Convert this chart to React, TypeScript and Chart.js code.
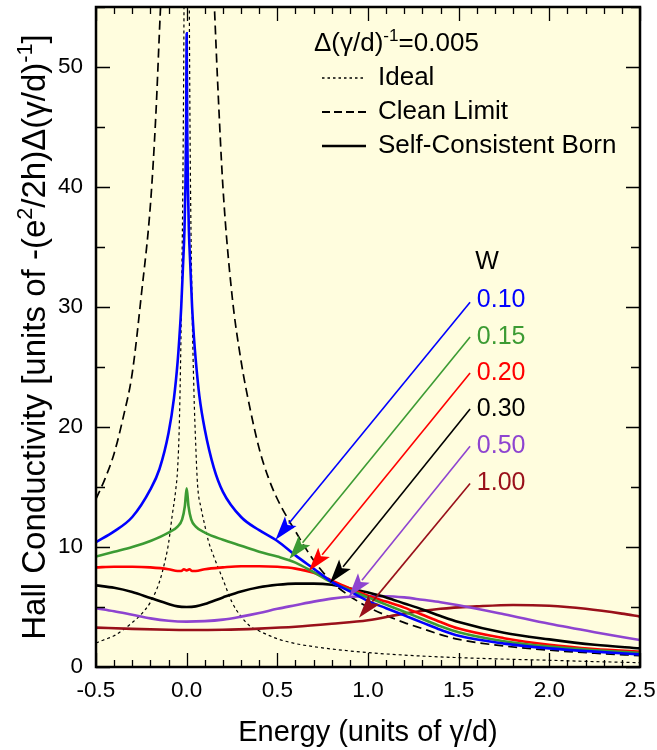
import React, { useEffect, useRef } from "react";
import { Chart, registerables } from "chart.js";

Chart.register(...registerables);

const FONT = '"Liberation Sans", Arial, Helvetica, sans-serif';
const PLOT_BG = "#FFFDDE";

// ---------- axes ----------
const xMin = -0.5;
const xMax = 2.5;
const yMin = 0;
const yMax = 55;
const xTickValues = [-0.5, 0, 0.5, 1.0, 1.5, 2.0, 2.5];
const yTickValues = [0, 10, 20, 30, 40, 50];
const xMinorStep = 0.1;
const yMinorStep = 5;

// ---------- series (Energy in units of γ/d, Hall conductivity) ----------
const idealE = [-0.5, -0.45, -0.4, -0.35, -0.3, -0.25, -0.2, -0.15, -0.12, -0.1, -0.08, -0.06, -0.05, -0.04, -0.03, -0.02, -0.015, -0.01, 0, 0.01, 0.015, 0.02, 0.03, 0.04, 0.05, 0.06, 0.08, 0.1, 0.12, 0.15, 0.2, 0.25, 0.3, 0.35, 0.4, 0.5, 0.6, 0.7, 0.8, 1.0, 1.25, 1.5, 1.75, 2.0, 2.25, 2.5];
const idealV = [2.0, 2.3, 2.6, 3.1, 3.7, 4.4, 5.4, 7.1, 8.8, 10.3, 12.6, 14.8, 16.5, 20.5, 29, 42, 54, 75, 200, 75, 54, 42, 30, 23, 18.5, 15.2, 13.2, 11.8, 10.5, 9.2, 7.3, 5.4, 4.2, 3.4, 3.0, 2.35, 1.95, 1.7, 1.5, 1.2, 0.95, 0.78, 0.66, 0.56, 0.45, 0.36];

const cleanE = [-0.5, -0.45, -0.4, -0.35, -0.3, -0.25, -0.2, -0.17, -0.15, -0.13, -0.1, 0, 0.1, 0.13, 0.15, 0.17, 0.2, 0.25, 0.3, 0.35, 0.4, 0.45, 0.5, 0.6, 0.7, 0.8, 0.9, 1.0, 1.1, 1.2, 1.3, 1.4, 1.5, 1.75, 2.0, 2.25, 2.5];
const cleanV = [14.0, 15.7, 17.8, 20.8, 24.5, 31, 38.5, 46, 53, 60, 75, 300, 75, 62, 56, 49, 40, 31, 25.5, 21.5, 18.2, 15.8, 14.0, 11.3, 8.9, 7.1, 5.9, 5.0, 4.3, 3.7, 3.2, 2.7, 2.3, 1.75, 1.4, 1.15, 0.95];

const w010E = [-0.5, -0.4, -0.3, -0.2, -0.15, -0.1, -0.07, -0.05, -0.04, -0.03, -0.02, -0.012, -0.007, -0.003, 0, 0.003, 0.007, 0.012, 0.02, 0.03, 0.04, 0.05, 0.07, 0.1, 0.15, 0.2, 0.3, 0.4, 0.5, 0.6, 0.7, 0.8, 0.9, 1.0, 1.1, 1.2, 1.3, 1.4, 1.5, 1.75, 2.0, 2.25, 2.5];
const w010V = [10.4, 11.3, 12.5, 14.8, 16.5, 19.5, 22.4, 25.4, 27.5, 30, 33.5, 36.5, 40, 45, 52.8, 45, 40, 36.5, 33.5, 30, 27.5, 25.6, 22.6, 19.8, 16.6, 14.6, 12.5, 11.4, 10.5, 9.3, 8.2, 7.1, 6.3, 5.5, 4.9, 4.3, 3.7, 3.1, 2.6, 1.95, 1.55, 1.28, 1.05];

const w015E = [-0.5, -0.4, -0.3, -0.2, -0.1, -0.05, -0.025, -0.01, 0, 0.01, 0.025, 0.05, 0.1, 0.2, 0.3, 0.4, 0.5, 0.6, 0.7, 0.8, 0.9, 1.0, 1.1, 1.2, 1.3, 1.4, 1.5, 1.75, 2.0, 2.25, 2.5];
const w015V = [9.2, 9.6, 10.0, 10.5, 11.2, 11.7, 12.3, 13.4, 14.9, 13.4, 12.3, 11.7, 11.2, 10.6, 10.1, 9.6, 9.2, 8.7, 7.9, 7.05, 6.4, 5.8, 5.2, 4.6, 4.0, 3.4, 2.9, 2.15, 1.7, 1.4, 1.18];

const w020E = [-0.5, -0.4, -0.3, -0.2, -0.1, -0.05, -0.03, -0.015, 0, 0.015, 0.03, 0.05, 0.1, 0.2, 0.3, 0.4, 0.5, 0.6, 0.7, 0.8, 0.9, 1.0, 1.1, 1.2, 1.3, 1.4, 1.5, 1.75, 2.0, 2.25, 2.5];
const w020V = [8.3, 8.35, 8.35, 8.3, 8.15, 8.0, 8.0, 8.15, 8.05, 8.15, 8.0, 8.0, 8.15, 8.3, 8.4, 8.4, 8.35, 8.2, 7.85, 7.2, 6.55, 5.95, 5.45, 4.95, 4.35, 3.75, 3.2, 2.4, 1.85, 1.5, 1.28];

const w030E = [-0.5, -0.4, -0.3, -0.2, -0.1, -0.05, 0, 0.05, 0.1, 0.2, 0.3, 0.4, 0.5, 0.6, 0.7, 0.8, 0.9, 1.0, 1.1, 1.2, 1.3, 1.4, 1.5, 1.75, 2.0, 2.25, 2.5];
const w030V = [6.8, 6.6, 6.25, 5.75, 5.25, 5.05, 5.0, 5.05, 5.25, 5.8, 6.3, 6.65, 6.85, 6.95, 6.95, 6.85, 6.55, 6.2, 5.8, 5.3, 4.8, 4.25, 3.75, 2.85, 2.3, 1.85, 1.55];

const w050E = [-0.5, -0.4, -0.3, -0.2, -0.1, 0, 0.1, 0.2, 0.3, 0.4, 0.5, 0.6, 0.7, 0.8, 0.9, 1.0, 1.1, 1.2, 1.3, 1.4, 1.5, 1.75, 2.0, 2.25, 2.5];
const w050V = [4.9, 4.65, 4.35, 4.05, 3.85, 3.78, 3.82, 3.95, 4.2, 4.5, 4.85, 5.15, 5.45, 5.7, 5.85, 5.9, 5.9, 5.8, 5.6, 5.4, 5.15, 4.4, 3.6, 2.9, 2.25];

const w100E = [-0.5, -0.3, -0.1, 0, 0.2, 0.4, 0.6, 0.8, 1.0, 1.2, 1.4, 1.6, 1.8, 2.0, 2.2, 2.4, 2.5];
const w100V = [3.28, 3.18, 3.1, 3.08, 3.1, 3.2, 3.35, 3.6, 3.9, 4.45, 4.85, 5.05, 5.17, 5.1, 4.85, 4.45, 4.2];

// ---------- W labels & arrows ----------
const wLabels = ["0.10", "0.15", "0.20", "0.30", "0.50", "1.00"];
const wColors = ["#0000FF", "#3C9B33", "#FF0000", "#000000", "#8E44D0", "#99101A"];
const wLabelE = 1.6;
const wLabelV = [30.55, 27.5, 24.5, 21.45, 18.4, 15.35];
const wHeaderE = 1.656;
const wHeaderV = 33.75;
const arrowStartE = [1.563, 1.563, 1.563, 1.563, 1.563, 1.563];
const arrowStartV = [30.4, 27.5, 24.5, 21.5, 18.4, 15.3];
const arrowTipE = [0.49, 0.566, 0.674, 0.79, 0.894, 0.95];
const arrowTipV = [10.6, 9.0, 8.0, 7.0, 5.86, 4.1];

const wSeriesE = [w010E, w015E, w020E, w030E, w050E, w100E];
const wSeriesV = [w010V, w015V, w020V, w030V, w050V, w100V];

const zip = (e: number[], v: number[]) => e.map((x, i) => ({ x, y: v[i] }));

type Part = { t: string; sup?: boolean };

function drawParts(ctx: CanvasRenderingContext2D, parts: Part[], x: number, y: number, size: number, align: "left" | "center") {
  const supSize = size * 0.66;
  const widths = parts.map((p) => {
    ctx.font = `${p.sup ? supSize : size}px ${FONT}`;
    return ctx.measureText(p.t).width;
  });
  const total = widths.reduce((a, b) => a + b, 0);
  let cx = align === "center" ? x - total / 2 : x;
  ctx.textAlign = "left";
  ctx.textBaseline = "alphabetic";
  parts.forEach((p, i) => {
    ctx.font = `${p.sup ? supSize : size}px ${FONT}`;
    ctx.fillText(p.t, cx, p.sup ? y - size * 0.4 : y);
    cx += widths[i];
  });
}

function drawArrow(ctx: CanvasRenderingContext2D, x0: number, y0: number, x1: number, y1: number, color: string) {
  const ang = Math.atan2(y1 - y0, x1 - x0);
  const L = 24;
  const H = 7.5;
  const bx = x1 - L * Math.cos(ang);
  const by = y1 - L * Math.sin(ang);
  ctx.strokeStyle = color;
  ctx.lineWidth = 1.6;
  ctx.setLineDash([]);
  ctx.beginPath();
  ctx.moveTo(x0, y0);
  ctx.lineTo(bx + 3 * Math.cos(ang), by + 3 * Math.sin(ang));
  ctx.stroke();
  ctx.fillStyle = color;
  ctx.beginPath();
  ctx.moveTo(x1, y1);
  ctx.lineTo(bx + H * Math.sin(ang), by - H * Math.cos(ang));
  ctx.lineTo(bx + 5 * Math.cos(ang), by + 5 * Math.sin(ang));
  ctx.lineTo(bx - H * Math.sin(ang), by + H * Math.cos(ang));
  ctx.closePath();
  ctx.fill();
}

const decorPlugin = {
  id: "decor",
  beforeDatasetsDraw(chart: any) {
    const { ctx, chartArea: a } = chart;
    ctx.save();
    ctx.fillStyle = PLOT_BG;
    ctx.fillRect(a.left, a.top, a.right - a.left, a.bottom - a.top);
    ctx.restore();
  },
  afterDatasetsDraw(chart: any) {
    const { ctx, chartArea: a } = chart;
    const xs = chart.scales.x;
    const ys = chart.scales.y;
    ctx.save();

    // arrows
    for (let i = 0; i < wLabels.length; i++) {
      drawArrow(
        ctx,
        xs.getPixelForValue(arrowStartE[i]),
        ys.getPixelForValue(arrowStartV[i]),
        xs.getPixelForValue(arrowTipE[i]),
        ys.getPixelForValue(arrowTipV[i]),
        wColors[i]
      );
    }

    // frame ticks
    ctx.strokeStyle = "#000";
    ctx.lineWidth = 1.3;
    ctx.setLineDash([]);
    ctx.beginPath();
    const nx = Math.round((xMax - xMin) / xMinorStep);
    for (let i = 0; i <= nx; i++) {
      const v = xMin + i * xMinorStep;
      const px = Math.round(xs.getPixelForValue(v)) + 0.5;
      const len = i % 5 === 0 ? 14 : 7;
      ctx.moveTo(px, a.bottom);
      ctx.lineTo(px, a.bottom - len);
      ctx.moveTo(px, a.top);
      ctx.lineTo(px, a.top + len);
    }
    const ny = Math.round((yMax - yMin) / yMinorStep);
    for (let i = 0; i <= ny; i++) {
      const v = yMin + i * yMinorStep;
      const py = Math.round(ys.getPixelForValue(v)) + 0.5;
      const len = i % 2 === 0 ? 14 : 9;
      ctx.moveTo(a.left, py);
      ctx.lineTo(a.left + len, py);
      ctx.moveTo(a.right, py);
      ctx.lineTo(a.right - len, py);
    }
    ctx.stroke();

    // frame border
    ctx.lineWidth = 2.5;
    ctx.strokeRect(a.left, a.top, a.right - a.left, a.bottom - a.top);

    // W labels
    ctx.textBaseline = "middle";
    ctx.font = `25px ${FONT}`;
    ctx.fillStyle = "#000";
    ctx.textAlign = "center";
    ctx.fillText("W", xs.getPixelForValue(wHeaderE), ys.getPixelForValue(wHeaderV));
    ctx.textAlign = "left";
    for (let i = 0; i < wLabels.length; i++) {
      ctx.fillStyle = wColors[i];
      ctx.fillText(wLabels[i], xs.getPixelForValue(wLabelE), ys.getPixelForValue(wLabelV[i]));
    }

    // legend
    ctx.fillStyle = "#000";
    drawParts(ctx, [{ t: "Δ(γ/d)" }, { t: "-1", sup: true }, { t: "=0.005" }], 314, 51, 26, "left");
    const rows = [
      { y: 78, text: "Ideal", dash: [2.5, 3], w: 1.6 },
      { y: 112, text: "Clean Limit", dash: [8, 4], w: 1.8 },
      { y: 146, text: "Self-Consistent Born", dash: [] as number[], w: 2.5 },
    ];
    rows.forEach((r) => {
      ctx.strokeStyle = "#000";
      ctx.lineWidth = r.w;
      ctx.setLineDash(r.dash);
      ctx.beginPath();
      ctx.moveTo(322, r.y);
      ctx.lineTo(366, r.y);
      ctx.stroke();
      ctx.setLineDash([]);
      ctx.font = `26px ${FONT}`;
      ctx.textAlign = "left";
      ctx.textBaseline = "middle";
      ctx.fillText(r.text, 378, r.y);
    });

    // x title
    ctx.fillStyle = "#000";
    ctx.font = `29px ${FONT}`;
    ctx.textAlign = "center";
    ctx.textBaseline = "alphabetic";
    ctx.fillText("Energy (units of γ/d)", (a.left + a.right) / 2, 741);

    // y title
    ctx.save();
    ctx.translate(45, (a.top + a.bottom) / 2);
    ctx.rotate(-Math.PI / 2);
    drawParts(
      ctx,
      [
        { t: "Hall Conductivity [units of -(e" },
        { t: "2", sup: true },
        { t: "/2h)Δ(γ/d)" },
        { t: "-1", sup: true },
        { t: "]" },
      ],
      0,
      0,
      33,
      "center"
    );
    ctx.restore();

    ctx.restore();
  },
};

export default function App() {
  const ref = useRef<HTMLCanvasElement | null>(null);

  useEffect(() => {
    if (!ref.current) return;
    const curveDatasets = wSeriesE.map((e, i) => ({
      label: "W=" + wLabels[i],
      data: zip(e, wSeriesV[i]),
      borderColor: wColors[i],
      borderWidth: 2.6,
      pointRadius: 0,
      fill: false,
      cubicInterpolationMode: "monotone" as const,
    }));
    const chart = new Chart(ref.current, {
      type: "line",
      data: {
        datasets: [
          ...curveDatasets,
          {
            label: "Clean Limit",
            data: zip(cleanE, cleanV),
            borderColor: "#000",
            borderWidth: 1.7,
            borderDash: [9, 5],
            pointRadius: 0,
            fill: false,
            cubicInterpolationMode: "monotone" as const,
          },
          {
            label: "Ideal",
            data: zip(idealE, idealV),
            borderColor: "#000",
            borderWidth: 1.2,
            borderDash: [3, 3],
            pointRadius: 0,
            fill: false,
            cubicInterpolationMode: "monotone" as const,
          },
        ],
      },
      options: {
        responsive: false,
        animation: false,
        devicePixelRatio: 1,
        layout: { padding: { top: 7, right: 17, bottom: 0, left: 0 } },
        plugins: { legend: { display: false }, tooltip: { enabled: false } },
        scales: {
          x: {
            type: "linear",
            min: xMin,
            max: xMax,
            grid: { display: false, drawTicks: false },
            border: { display: false },
            ticks: {
              font: { family: FONT, size: 22.5 },
              color: "#000",
              padding: 10,
              maxRotation: 0,
              autoSkip: false,
              callback: (v: any) => Number(v).toFixed(1),
            },
            afterBuildTicks: (s: any) => {
              s.ticks = xTickValues.map((value) => ({ value }));
            },
            afterFit: (s: any) => {
              s.height = 83;
              s.paddingLeft = 0;
              s.paddingRight = 0;
            },
          },
          y: {
            type: "linear",
            min: yMin,
            max: yMax,
            grid: { display: false, drawTicks: false },
            border: { display: false },
            ticks: {
              font: { family: FONT, size: 22.5 },
              color: "#000",
              padding: 13,
              autoSkip: false,
              callback: (v: any) => String(v),
            },
            afterBuildTicks: (s: any) => {
              s.ticks = yTickValues.map((value) => ({ value }));
            },
            afterFit: (s: any) => {
              s.width = 96;
              s.paddingTop = 0;
              s.paddingBottom = 0;
            },
          },
        },
      },
      plugins: [decorPlugin],
    });
    return () => chart.destroy();
  }, []);

  return (
    <div style={{ position: "absolute", left: 0, top: 0, width: 657, height: 750, background: "#fff" }}>
      <canvas ref={ref} width={657} height={750} style={{ display: "block", width: 657, height: 750 }} />
    </div>
  );
}
